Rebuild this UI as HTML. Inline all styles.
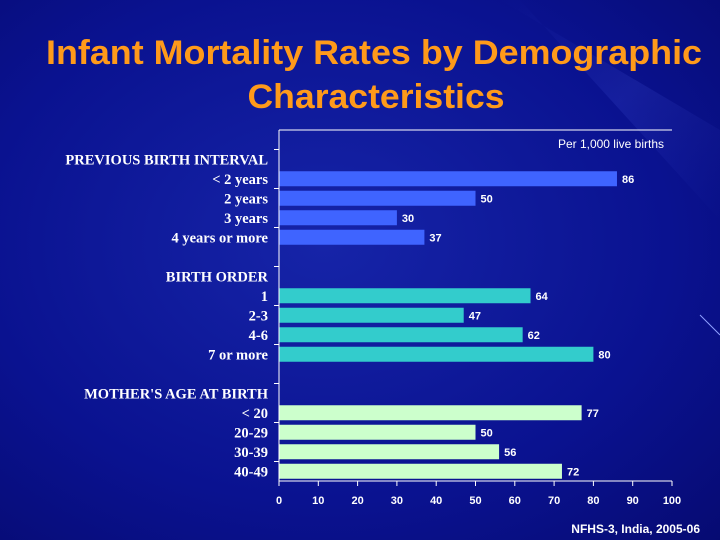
<!DOCTYPE html>
<html><head><meta charset="utf-8"><style>
html,body{margin:0;padding:0;}
body{width:720px;height:540px;overflow:hidden;background:#0a0f8c;}
svg{display:block;}
</style></head><body>
<svg id="chart" width="720" height="540" viewBox="0 0 720 540" xmlns="http://www.w3.org/2000/svg">
<defs>
<radialGradient id="bg" cx="0.45" cy="0.45" r="0.8">
<stop offset="0" stop-color="#1624a8"/><stop offset="0.6" stop-color="#0a1290"/><stop offset="1" stop-color="#060a70"/>
</radialGradient>
<linearGradient id="streak" x1="0" y1="0" x2="1" y2="1">
<stop offset="0" stop-color="#3a4ad0" stop-opacity="0"/><stop offset="0.5" stop-color="#4a5ae0" stop-opacity="0.18"/><stop offset="1" stop-color="#3a4ad0" stop-opacity="0"/>
</linearGradient>
</defs>
<rect width="720" height="540" fill="url(#bg)"/>
<polygon points="500,0 720,130 720,220 520,0" fill="url(#streak)"/>
<line x1="700" y1="315" x2="720" y2="335" stroke="#8fa0ff" stroke-width="1"/>
<text x="374" y="64" text-anchor="middle" font-family="Liberation Sans, sans-serif" font-size="34" font-weight="bold" fill="#ff9a1a" textLength="656" lengthAdjust="spacingAndGlyphs">Infant Mortality Rates by Demographic</text>
<text x="376" y="108" text-anchor="middle" font-family="Liberation Sans, sans-serif" font-size="34" font-weight="bold" fill="#ff9a1a" textLength="257" lengthAdjust="spacingAndGlyphs">Characteristics</text>
<g id="plot"></g>
<text x="664" y="148" text-anchor="end" font-family="Liberation Sans, sans-serif" font-size="12" fill="#ffffff">Per 1,000 live births</text>
<text x="700" y="533" text-anchor="end" font-family="Liberation Sans, sans-serif" font-size="12" font-weight="bold" fill="#ffffff">NFHS-3, India, 2005-06</text>
</svg>
<script>
const groups = ["PREVIOUS BIRTH INTERVAL","BIRTH ORDER","MOTHER'S AGE AT BIRTH"];
const categories = [["< 2 years","2 years","3 years","4 years or more"],["1","2-3","4-6","7 or more"],["< 20","20-29","30-39","40-49"]];
const values = [[86,50,30,37],[64,47,62,80],[77,50,56,72]];
const groupColors = ["#3f64ff","#33cccc","#ccffcc"];
const xTicks = [0,10,20,30,40,50,60,70,80,90,100];

const NS="http://www.w3.org/2000/svg";
const plotG=document.getElementById('plot');
const x0=279,x1=672,yTop=130,yBot=481;
const nSlots=18, slotH=(yBot-yTop)/nSlots;
const xs=v=>x0+(v-0)/(100-0)*(x1-x0);
const yc=i=>yTop+slotH*(i+0.5);
function el(tag,attrs){const e=document.createElementNS(NS,tag);for(const k in attrs)e.setAttribute(k,attrs[k]);plotG.appendChild(e);return e;}
const serif="Liberation Serif, serif";
let slot=1;
groups.forEach((gr,gi)=>{
  const h=el('text',{x:268,y:yc(slot)+5,'text-anchor':'end','font-family':serif,'font-size':14.5,'font-weight':'bold',fill:'#fff'});
  h.textContent=gr;
  
  
  slot++;
  categories[gi].forEach((c,ci)=>{
    const y=yc(slot);
    const lab=el('text',{x:268,y:y+5,'text-anchor':'end','font-family':serif,'font-size':14.5,'font-weight':'bold',fill:'#fff'});
    lab.textContent=c;
    
    
    const v=values[gi][ci];
    const b=el('rect',{x:x0,y:y-7.5,width:xs(v)-x0,height:15,fill:groupColors[gi]});
    
    
    const t=el('text',{x:xs(v)+5,y:y+4,'font-family':'Liberation Sans, sans-serif','font-size':11,'font-weight':'bold',fill:'#fff'});
    t.textContent=v;
    
    
    slot++;
  });
  slot++;
});
const topBorder=el('line',{x1:x0,y1:yTop,x2:x1,y2:yTop,stroke:'#fff','stroke-width':1});


const yAxisLine=el('line',{x1:x0,y1:yTop,x2:x0,y2:yBot,stroke:'#fff','stroke-width':1});


for(let i=1;i<nSlots;i+=2){
  const tk=el('line',{x1:x0-5,y1:yTop+slotH*i,x2:x0,y2:yTop+slotH*i,stroke:'#fff'});
  
  
}
const xAxisLine=el('line',{x1:x0,y1:yBot,x2:x1,y2:yBot,stroke:'#fff','stroke-width':1});


xTicks.forEach(v=>{
  const tk=el('line',{x1:xs(v),y1:yBot,x2:xs(v),y2:yBot+5,stroke:'#fff'});
  
  
  const t=el('text',{x:xs(v),y:504,'text-anchor':'middle','font-family':'Liberation Sans, sans-serif','font-size':11,'font-weight':'bold',fill:'#fff'});
  t.textContent=v;
  
  
});
</script>
</body></html>
